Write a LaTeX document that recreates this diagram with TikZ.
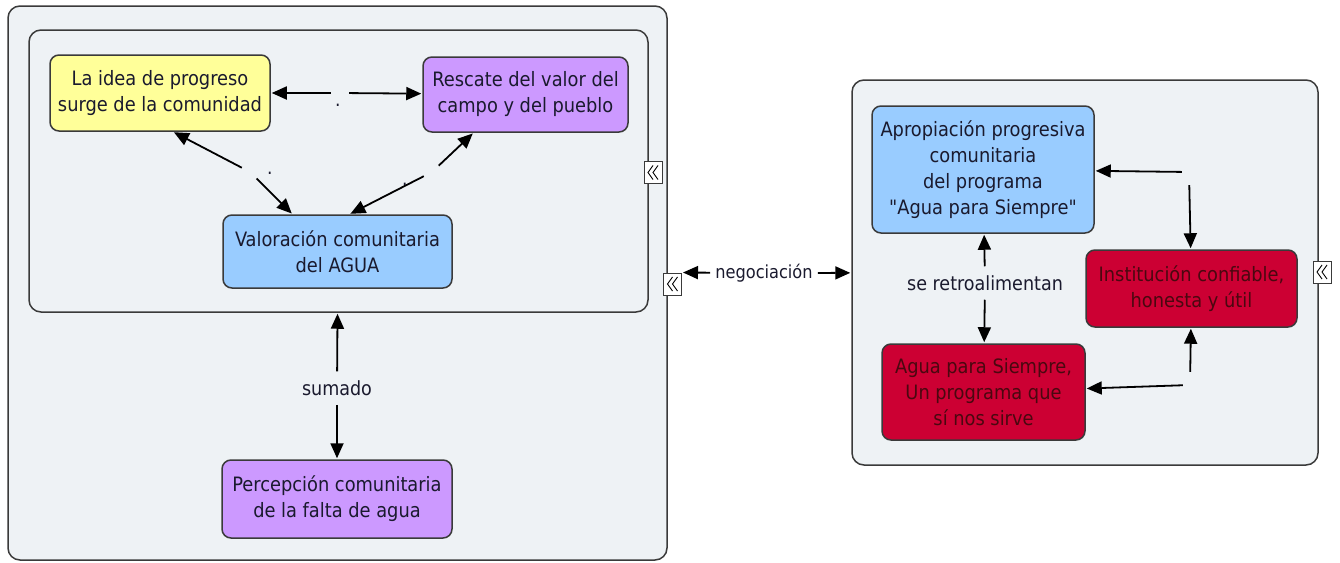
\documentclass[tikz,border=0pt]{standalone}
\usepackage{fontspec}
\setmainfont{DejaVu Sans Condensed}[Ligatures=TeXOff]
\usetikzlibrary{arrows.meta,calc}
\definecolor{panelbg}{HTML}{EEF2F5}
\definecolor{bordc}{HTML}{3A3A3A}
\definecolor{yel}{HTML}{FFFF99}
\definecolor{purp}{HTML}{CC99FF}
\definecolor{blu}{HTML}{99CCFF}
\definecolor{redc}{HTML}{CC0033}
\definecolor{txtc}{HTML}{1A1A2E}
\definecolor{redtxt}{HTML}{4A0810}
\newcommand\offdot[2]{\smash{\rlap{\kern#1\raisebox{#2}{.}}}}
\begin{document}
\begin{tikzpicture}[x=1pt,y=-1pt,
  concept/.style={draw=bordc, line width=1.5pt, rounded corners=9pt, align=center,
    font=\fontsize{19.8}{26}\selectfont, text=txtc, inner sep=0pt},
  panel/.style={draw=bordc, line width=1.5pt, fill=panelbg, rounded corners=12pt, inner sep=0pt},
  lnk/.style={font=\fontsize{19.5}{26}\selectfont, text=txtc, inner xsep=5pt, inner ysep=9pt},
  dotlnk/.style={circle, minimum size=18pt, inner sep=0pt, font=\fontsize{19}{26}\selectfont, text=txtc},
  hid/.style={minimum width=14pt, minimum height=26pt, inner sep=0pt},
  conn/.style={line width=1.8pt, draw=black, shorten >=1pt, -{Triangle[length=15pt,width=13pt]}},
  icon/.style={draw=bordc, line width=1pt, fill=white, minimum width=18pt, minimum height=22pt, inner sep=0pt},
  chev/.style={draw=black, line width=0.9pt}]
\useasboundingbox (0,0) rectangle (1340,562);
\fill[white] (0,0) rectangle (1340,562);
% panels
\node[panel, minimum width=659pt, minimum height=554pt] (outerL) at (337.5,283) {};
\node[panel, minimum width=619pt, minimum height=282pt] (inner) at (338.5,171) {};
\node[panel, minimum width=466pt, minimum height=385pt] (rp) at (1085,272.5) {};
% icons
\node[icon] (ic1) at (653,172.5) {};
\node[icon] (ic2) at (672.5,284) {};
\node[icon] (ic3) at (1322,272) {};
\foreach \ic in {ic1,ic2,ic3}{
  \draw[chev] ([shift={(0,-7)}]\ic.center) -- ([shift={(-5,0)}]\ic.center) -- ([shift={(0,7)}]\ic.center);
  \draw[chev] ([shift={(5,-7)}]\ic.center) -- ([shift={(0,0)}]\ic.center) -- ([shift={(5,7)}]\ic.center);
}
% concepts
\node[concept, fill=yel, minimum width=220pt, minimum height=76pt] (yel) at (160,93)
  {La idea de progreso\\surge de la comunidad};
\node[concept, fill=purp, minimum width=205pt, minimum height=75pt] (res) at (525.5,94.5)
  {Rescate del valor del\\campo y del pueblo};
\node[concept, fill=blu, minimum width=229pt, minimum height=73pt] (val) at (337.5,251.5)
  {Valoración comunitaria\\del AGUA};
\node[concept, fill=purp, minimum width=230pt, minimum height=78pt] (per) at (337,499)
  {Percepción comunitaria\\de la falta de agua};
\node[concept, fill=blu, minimum width=222pt, minimum height=127pt] (apr) at (983,169.5)
  {Apropiación progresiva\\comunitaria\\del programa\\"Agua para Siempre"};
\node[concept, fill=redc, text=redtxt, minimum width=211pt, minimum height=77pt] (ins) at (1191.5,288.5)
  {Institución confiable,\\honesta y útil};
\node[concept, fill=redc, text=redtxt, minimum width=203pt, minimum height=96pt] (agua) at (983.5,392)
  {Agua para Siempre,\\Un programa que\\sí nos sirve};
% linking phrases
\node[dotlnk] (l1) at (340,93) {\offdot{-5pt}{-13pt}};
\node[dotlnk] (l2) at (250,172) {\offdot{17pt}{-2pt}};
\node[dotlnk] (l8) at (432,172) {\offdot{-30pt}{-13pt}};
\node[lnk] (l3) at (337,388) {sumado};
\node[lnk, font=\fontsize{18}{24}\selectfont] (l7) at (764,273) {negociación};
\node[lnk] (l4) at (985,283) {se retroalimentan};
\node[hid] (l5) at (1189,172) {};
\node[hid] (l6) at (1190,385) {};
% connectors
\draw[conn] (l1) -- (yel);
\draw[conn] (l1) -- (res);
\draw[conn] (l2) -- ([xshift=13pt]yel.south);
\draw[conn] (l2) -- ([xshift=-45pt]val.north);
\draw[conn] (l8) -- ([xshift=-52pt]res.south);
\draw[conn] (l8) -- ([xshift=12pt]val.north);
\draw[conn] (l3) -- (inner);
\draw[conn] (l3) -- (per);
\draw[conn] (l7) -- (ic2.north east);
\draw[conn] (l7) -- (rp);
\draw[conn] (l4) -- (apr);
\draw[conn] (l4) -- (agua);
\draw[conn] (l5) -- (apr);
\draw[conn] (l5) -- (ins);
\draw[conn] (l6) -- (agua);
\draw[conn] (l6) -- (ins);
\end{tikzpicture}
\end{document}
